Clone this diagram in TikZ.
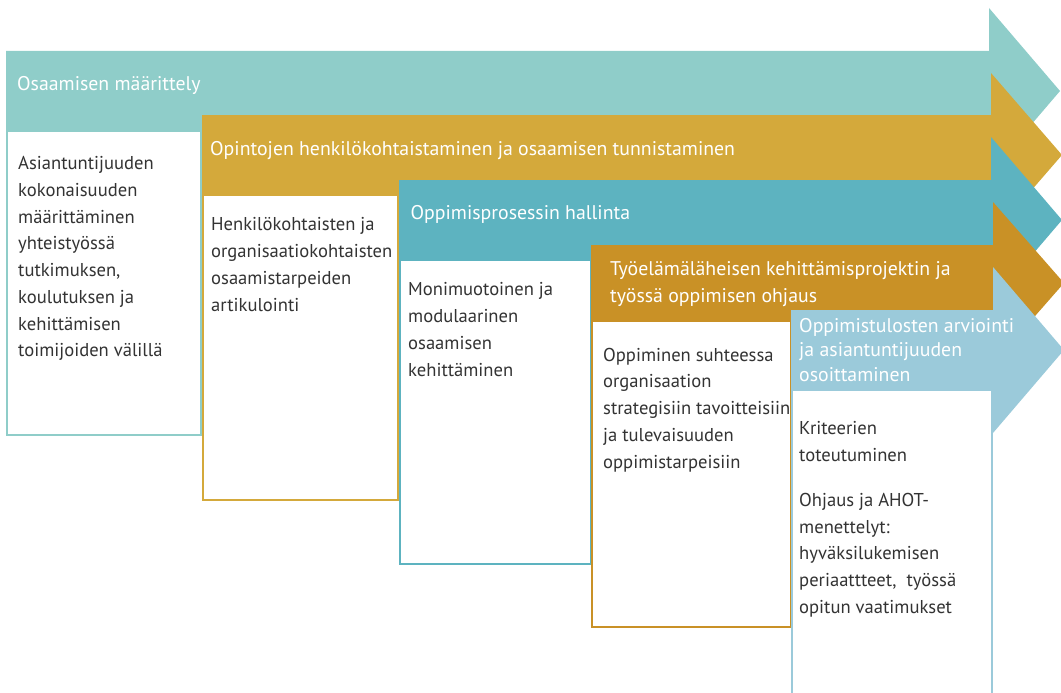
\documentclass[tikz,border=0pt]{standalone}
\usepackage{fontspec}
\setmainfont{PT Sans}
\definecolor{cA}{RGB}{143,205,201}
\definecolor{cB}{RGB}{212,169,59}
\definecolor{cC}{RGB}{93,179,192}
\definecolor{cD}{RGB}{201,145,38}
\definecolor{cE}{RGB}{155,202,218}
\definecolor{txt}{RGB}{51,51,51}
\tikzset{
  hdr/.style={anchor=base west, inner sep=0pt, text=white, align=left, font=\fontsize{19.8}{27}\selectfont},
  bodytext/.style={anchor=base west, inner sep=0pt, text=txt, align=left, font=\fontsize{18.6}{26.7}\selectfont},
  boxline/.style={line width=2pt, fill=white},
}
\begin{document}
\begin{tikzpicture}[x=1pt,y=-1pt]
\useasboundingbox (0,0) rectangle (1061,693);
\clip (0,0) rectangle (1061,693);
% stage 1
\fill[cA] (6,51) -- (989,51) -- (989,8) -- (1060,91) -- (989,174) -- (989,131) -- (6,131) -- cycle;
\draw[boxline, draw=cA] (7,131) rectangle (201,435);
\node[hdr] (h1) at (17,90.7) {Osaamisen määrittely};
\node[bodytext] (b1) at (18,356.7) {Asiantuntijuuden\\kokonaisuuden\\määrittäminen\\yhteistyössä\\tutkimuksen,\\koulutuksen ja\\kehittämisen\\toimijoiden välillä};
% stage 2
\fill[cB] (202,115) -- (991,115) -- (991,73) -- (1062,155) -- (991,237) -- (991,195) -- (202,195) -- cycle;
\draw[boxline, draw=cB] (203,195) rectangle (398,500);
\node[hdr] (h2) at (210,155) {Opintojen henkilökohtaistaminen ja osaamisen tunnistaminen};
\node[bodytext] (b2) at (211,311) {Henkilökohtaisten ja\\organisaatiokohtaisten\\osaamistarpeiden\\artikulointi};
% stage 3
\fill[cC] (399,180) -- (991,180) -- (991,137) -- (1062,220) -- (991,303) -- (991,260) -- (399,260) -- cycle;
\draw[boxline, draw=cC] (400,260) rectangle (591,564);
\node[hdr] (h3) at (410.5,219.3) {Oppimisprosessin hallinta};
\node[bodytext] (b3) at (408,376) {Monimuotoinen ja\\modulaarinen\\osaamisen\\kehittäminen};
% stage 4
\fill[cD] (591,245) -- (993,245) -- (993,202) -- (1064,283) -- (993,364) -- (993,321) -- (591,321) -- cycle;
\draw[boxline, draw=cD] (592,321) rectangle (791,627);
\node[hdr, font=\fontsize{19.8}{26.5}\selectfont] (h4) at (610,302.3) {Työelämäläheisen kehittämisprojektin ja\\työssä oppimisen ohjaus};
\node[bodytext] (b4) at (603,468) {Oppiminen suhteessa\\organisaation\\strategisiin tavoitteisiin\\ja tulevaisuuden\\oppimistarpeisiin};
% stage 5
\fill[cE] (791,310) -- (993,310) -- (993,267) -- (1064,350) -- (993,433) -- (993,390) -- (791,390) -- cycle;
\draw[boxline, draw=cE] (792,390) rectangle (992,720);
\node[hdr, font=\fontsize{19.8}{24.2}\selectfont] (h5) at (799,381) {Oppimistulosten arviointi\\ja asiantuntijuuden\\osoittaminen};
\node[bodytext] (b5) at (799,613.3) {Kriteerien\\toteutuminen\\[18.3pt]Ohjaus ja AHOT-\\menettelyt:\\hyväksilukemisen\\periaattteet,\ \ työssä\\opitun vaatimukset};
\end{tikzpicture}
\end{document}
